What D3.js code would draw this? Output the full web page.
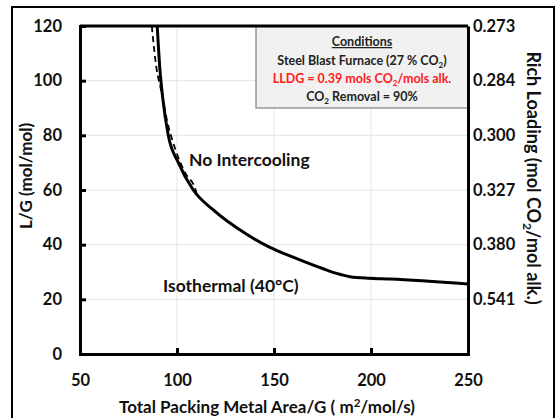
<!DOCTYPE html>
<html>
<head>
<meta charset="utf-8">
<script src="https://cdn.jsdelivr.net/npm/d3@7"></script>
<style>
  html, body { margin: 0; padding: 0; background: #fff; }
  svg text { font-family: Lato, "Open Sans", sans-serif; font-weight: bold; }
</style>
</head>
<body>
<svg id="chart" width="556" height="418"></svg>
<script>
// Packing area per gas flow vs. L/G, isothermal column
const isoArea = [89.8, 91.2, 92.6, 95.5, 100.7, 108.4, 118.7, 135.9, 147.9, 158.2, 168.6, 175.4, 182.3, 189.2, 199.5, 209.8, 250];
const isoLG   = [120, 104, 94, 80, 70, 60, 52.7, 43.8, 39.0, 35.9, 33.0, 31.2, 29.5, 28.3, 27.7, 27.4, 25.6];

// Same case without intercooling (only defined at low area)
const noIcArea = [87.0, 89.5, 91.8, 95.0, 99.3, 104.0, 109.6, 110.3];
const noIcLG   = [120, 104.2, 96.6, 85, 74.6, 66.5, 60, 58.2];

// Axis ticks
const xTicks = [50, 100, 150, 200, 250];
const yTicks = [0, 20, 40, 60, 80, 100, 120];
// Rich loading corresponding to each L/G gridline
const richLG      = [20, 40, 60, 80, 100, 120];
const richLoading = ["0.541", "0.380", "0.327", "0.300", "0.284", "0.273"];

const svg = d3.select("#chart");
const plotL = 80, plotR = 468, plotT = 26, plotB = 354;

const x = d3.scaleLinear().domain([50, 250]).range([plotL, plotR]);
const y = d3.scaleLinear().domain([0, 120]).range([plotB, plotT]);

// Outer frame
svg.append("rect")
  .attr("x", 12).attr("y", 7).attr("width", 542).attr("height", 430)
  .attr("fill", "none").attr("stroke", "#000").attr("stroke-width", 2);

// Gridlines
const grid = svg.append("g").attr("stroke", "#e4e4e4").attr("stroke-width", 1);
grid.selectAll("line.v").data(xTicks.slice(1, -1)).join("line")
  .attr("class", "v")
  .attr("x1", d => x(d)).attr("x2", d => x(d))
  .attr("y1", plotT).attr("y2", plotB);
grid.selectAll("line.h").data(yTicks.slice(1, -1)).join("line")
  .attr("class", "h")
  .attr("x1", plotL).attr("x2", plotR)
  .attr("y1", d => y(d)).attr("y2", d => y(d));

// Conditions box
const box = { x0: 256, y1: 108 };
svg.append("rect")
  .attr("x", box.x0).attr("y", plotT)
  .attr("width", plotR - box.x0).attr("height", box.y1 - plotT)
  .attr("fill", "#f1f1f1").attr("stroke", "#7f7f7f").attr("stroke-width", 1.2);

const cx = (box.x0 + plotR) / 2;
const fs = 12.5;
svg.append("text").attr("x", cx).attr("y", 46).attr("text-anchor", "middle")
  .attr("font-size", fs).attr("fill", "#222").attr("text-decoration", "underline")
  .text("Conditions");
const t2 = svg.append("text").attr("x", cx).attr("y", 64.5).attr("text-anchor", "middle")
  .attr("font-size", fs).attr("fill", "#222");
t2.append("tspan").text("Steel Blast Furnace (27 % CO");
t2.append("tspan").attr("font-size", fs * 0.65).attr("dy", 3).text("2");
t2.append("tspan").attr("dy", -3).text(")");
const t3 = svg.append("text").attr("x", cx).attr("y", 82.5).attr("text-anchor", "middle")
  .attr("font-size", fs).attr("fill", "#ff1a1a");
t3.append("tspan").text("LLDG = 0.39 mols CO");
t3.append("tspan").attr("font-size", fs * 0.65).attr("dy", 3).text("2");
t3.append("tspan").attr("dy", -3).text("/mols alk.");
const t4 = svg.append("text").attr("x", cx).attr("y", 101).attr("text-anchor", "middle")
  .attr("font-size", fs).attr("fill", "#222");
t4.append("tspan").text("CO");
t4.append("tspan").attr("font-size", fs * 0.65).attr("dy", 3).text("2");
t4.append("tspan").attr("dy", -3).text(" Removal = 90%");

// Curves
const line = d3.line().x(d => x(d[0])).y(d => y(d[1])).curve(d3.curveMonotoneX);
svg.append("path")
  .datum(d3.zip(noIcArea, noIcLG))
  .attr("d", line).attr("fill", "none")
  .attr("stroke", "#000").attr("stroke-width", 1.8).attr("stroke-dasharray", "6,4");
svg.append("path")
  .datum(d3.zip(isoArea, isoLG))
  .attr("d", line).attr("fill", "none")
  .attr("stroke", "#000").attr("stroke-width", 3);

// Axes
const gx = svg.append("g").attr("transform", `translate(0,${plotB})`)
  .call(d3.axisBottom(x).tickValues(xTicks).tickSize(-6).tickPadding(20));
const gy = svg.append("g").attr("transform", `translate(${plotL},0)`)
  .call(d3.axisLeft(y).tickValues(yTicks).tickSize(-6).tickPadding(18));
const gr = svg.append("g").attr("transform", `translate(${plotR},0)`)
  .call(d3.axisRight(y).tickValues(richLG).tickSize(0).tickPadding(5)
    .tickFormat(d => richLoading[richLG.indexOf(d)]));
[gx, gy, gr].forEach(g => {
  g.select(".domain").attr("stroke", "#000").attr("stroke-width", 3);
  g.selectAll(".tick line").attr("stroke", "#000").attr("stroke-width", 3);
  g.selectAll(".tick text").attr("font-size", 16.5).attr("fill", "#111")
    .attr("font-family", "Lato, sans-serif").attr("font-weight", "bold");
});
// Top frame line
svg.append("line").attr("x1", plotL).attr("x2", plotR).attr("y1", plotT).attr("y2", plotT)
  .attr("stroke", "#000").attr("stroke-width", 3);

// Curve labels
svg.append("text").attr("x", 189).attr("y", 166).attr("font-size", 17.5).attr("fill", "#111")
  .text("No Intercooling");
svg.append("text").attr("x", 163).attr("y", 292).attr("font-size", 17.5).attr("fill", "#111")
  .text("Isothermal (40°C)");

// Axis titles
const xt = svg.append("text").attr("x", 267).attr("y", 413).attr("text-anchor", "middle")
  .attr("font-size", 17).attr("fill", "#111");
xt.append("tspan").text("Total Packing Metal Area/G ( m");
xt.append("tspan").attr("font-size", 11.5).attr("dy", -6).text("2");
xt.append("tspan").attr("dy", 6).text("/mol/s)");

svg.append("text").attr("transform", "translate(32,176) rotate(-90)")
  .attr("text-anchor", "middle").attr("font-size", 17).attr("fill", "#111")
  .text("L/G (mol/mol)");

const rt = svg.append("text").attr("transform", "translate(527,178) rotate(90)")
  .attr("text-anchor", "middle").attr("font-size", 18).attr("fill", "#111");
rt.append("tspan").text("Rich Loading (mol CO");
rt.append("tspan").attr("font-size", 12).attr("dy", 4).text("2");
rt.append("tspan").attr("dy", -4).text("/mol alk.)");
</script>
</body>
</html>
